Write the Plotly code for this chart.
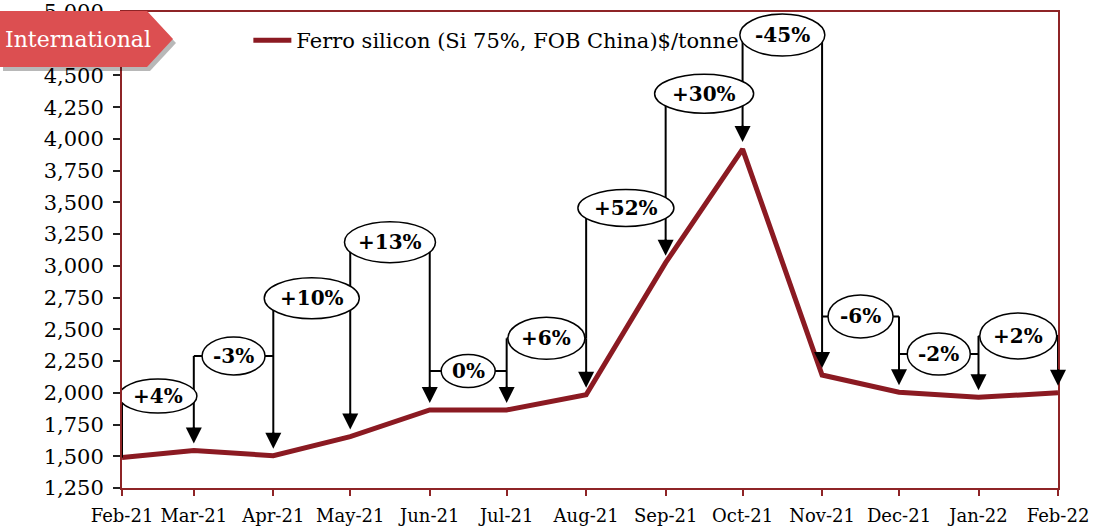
import pandas as pd
import plotly.graph_objects as go

# ---------------- data ----------------
dates = ["2021-02-01", "2021-03-01", "2021-04-01", "2021-05-01", "2021-06-01", "2021-07-01",
         "2021-08-01", "2021-09-01", "2021-10-01", "2021-11-01", "2021-12-01", "2022-01-01",
         "2022-02-01"]
months = ["Feb-21", "Mar-21", "Apr-21", "May-21", "Jun-21", "Jul-21", "Aug-21", "Sep-21",
          "Oct-21", "Nov-21", "Dec-21", "Jan-22", "Feb-22"]
prices = [1490, 1545, 1505, 1655, 1865, 1865, 1985, 3025, 3920, 2140, 2005, 1965, 2000]
changes = ["+4%", "-3%", "+10%", "+13%", "0%", "+6%", "+52%", "+30%", "-45%", "-6%", "-2%", "+2%"]
y_ticks = list(range(1250, 5001, 250))
series_name = "Ferro silicon (Si 75%, FOB China)$/tonne"

# ---------------- label layout (positions / sizes) ----------------
bubble_levels = [1974, 2290, 2745, 3187, 2172, 2429, 3456, 4356, 4818, 2602, 2306, 2448]
bubble_w = [78, 63, 95, 91, 54, 77, 96, 99, 85, 65, 63, 77]
bubble_h = [34, 38, 41, 41, 33, 42, 37, 39, 42, 43, 42, 46]

W, H = 1094, 527
M_L, M_R, M_T, M_B = 122, 36, 12, 39
Y_MIN, Y_MAX = 1250, 5000
plot_h = H - M_T - M_B
GAP_PX = 7
gap_units = GAP_PX * (Y_MAX - Y_MIN) / plot_h

RED = "#8B1A22"
AXIS = "#8E2426"
FONT = "DejaVu Serif"

ts = pd.to_datetime(dates)
mids = [(ts[i] + (ts[i + 1] - ts[i]) / 2).strftime("%Y-%m-%d %H:%M") for i in range(len(changes))]

fig = go.Figure()
fig.add_trace(go.Scatter(x=dates, y=prices, mode="lines", name=series_name,
                         line=dict(color=RED, width=5)))

shapes = []
annotations = []
blk = dict(color="black", width=2)
for i, lab in enumerate(changes):
    lvl = bubble_levels[i]
    x0, x1 = dates[i], dates[i + 1]
    if i == 0:
        bottom = prices[0]
    else:
        bottom = max(prices[i] + 2 * gap_units, min(bubble_levels[i - 1], lvl))
    shapes.append(dict(type="line", xref="x", yref="y", x0=x0, x1=x0, y0=bottom, y1=lvl, line=blk, layer="above"))
    shapes.append(dict(type="line", xref="x", yref="y", x0=x0, x1=x1, y0=lvl, y1=lvl, line=blk, layer="above"))
    shapes.append(dict(type="line", xref="x", yref="y", x0=x1, x1=x1, y0=lvl,
                       y1=prices[i + 1] + 2 * gap_units, line=blk, layer="above"))
    annotations.append(dict(x=x1, y=prices[i + 1], xref="x", yref="y", text="", showarrow=True,
                            ax=0, ay=-(GAP_PX + 18), standoff=GAP_PX, arrowhead=2, arrowsize=1.6,
                            arrowwidth=2, arrowcolor="black"))

for i, lab in enumerate(changes):
    shapes.append(dict(type="circle", xref="x", yref="y", xsizemode="pixel", ysizemode="pixel",
                       xanchor=mids[i], yanchor=bubble_levels[i],
                       x0=-bubble_w[i] / 2, x1=bubble_w[i] / 2,
                       y0=-bubble_h[i] / 2, y1=bubble_h[i] / 2,
                       fillcolor="white", line=dict(color="black", width=1.5), layer="above"))
    annotations.append(dict(x=mids[i], y=bubble_levels[i], xref="x", yref="y", text="<b>%s</b>" % lab,
                            showarrow=False, font=dict(family=FONT, size=20, color="black"),
                            xanchor="center", yanchor="middle"))

# "International" tag
shapes.append(dict(type="path", xref="paper", yref="paper", xsizemode="pixel", ysizemode="pixel",
                   xanchor=0, yanchor=1, path="M-119,-3 L28,-3 L54,-31 L28,-59 L-119,-59 Z",
                   fillcolor="rgba(0,0,0,0.28)", line=dict(width=0), layer="above"))
shapes.append(dict(type="path", xref="paper", yref="paper", xsizemode="pixel", ysizemode="pixel",
                   xanchor=0, yanchor=1, path="M-122,1 L25,1 L51,-27 L25,-55 L-122,-55 Z",
                   fillcolor="#DC4F51", line=dict(width=0), layer="above"))
annotations.append(dict(x=0, y=1, xref="paper", yref="paper", xanchor="left", yanchor="middle",
                        xshift=-119, yshift=-27, text="International", showarrow=False,
                        font=dict(family=FONT, size=22, color="white")))

fig.update_layout(
    width=W, height=H,
    margin=dict(l=M_L, r=M_R, t=M_T, b=M_B, autoexpand=False),
    paper_bgcolor="white", plot_bgcolor="white",
    font=dict(family=FONT, size=18, color="black"),
    showlegend=True,
    legend=dict(orientation="h", x=0.135, y=0.94, xanchor="left", yanchor="middle",
                itemwidth=38,
                bgcolor="rgba(0,0,0,0)", font=dict(family=FONT, size=21, color="black")),
    shapes=shapes, annotations=annotations,
)
fig.update_xaxes(type="date", range=[dates[0], dates[-1]], tickvals=dates, ticktext=months,
                 automargin=False,
                 showgrid=False, zeroline=False, showline=True, linecolor=AXIS, linewidth=2,
                 mirror=True, ticks="outside", ticklen=6, tickcolor=AXIS, tickwidth=2,
                 ticklabelstandoff=4, tickfont=dict(family=FONT, size=18, color="black"))
fig.update_yaxes(range=[Y_MIN, Y_MAX], tickvals=y_ticks, tickformat=",", showgrid=False,
                 automargin=False,
                 zeroline=False, showline=True, linecolor=AXIS, linewidth=2, mirror=True,
                 ticks="outside", ticklen=7, tickcolor="#222222", tickwidth=2,
                 ticklabelstandoff=5, tickfont=dict(family=FONT, size=21, color="black"))

fig.write_html("out.html", config={"displayModeBar": False},
               post_script="document.body.style.margin='0';")
